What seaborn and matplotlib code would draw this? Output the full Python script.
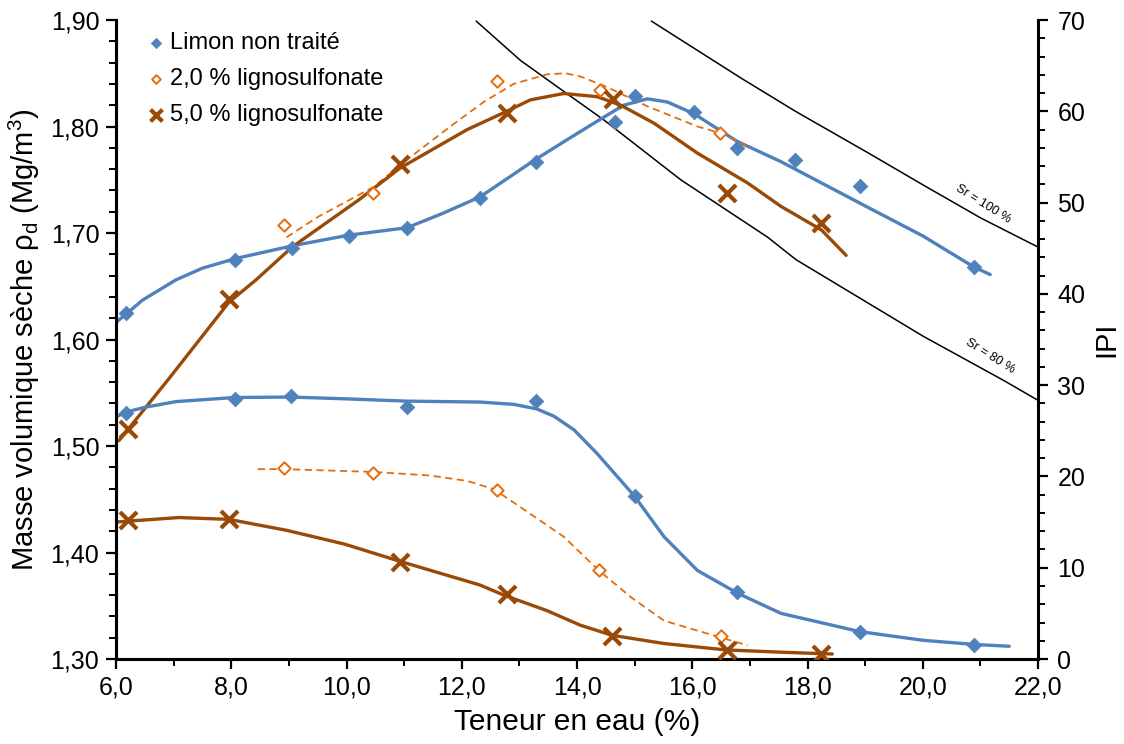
import numpy as np
import pandas as pd
import seaborn as sns
from matplotlib import pyplot as plt
from matplotlib.ticker import MultipleLocator, FuncFormatter

sns.set_style("ticks")
plt.rcParams['font.family'] = ['Liberation Sans', 'DejaVu Sans']
plt.rcParams['mathtext.fontset'] = 'custom'
plt.rcParams['mathtext.rm'] = 'Liberation Sans'
for k in ['text.color', 'axes.labelcolor', 'xtick.color', 'ytick.color', 'axes.edgecolor']:
    plt.rcParams[k] = 'black'

# couleurs (palette Excel)
c_blue = '#4F81BD'
c_orange = '#E46C0A'
c_brown = '#9A4A06'

# ---- Proctor : points mesures (w %, rho_d Mg/m3)
w_lim = [6.18, 8.07, 9.06, 10.04, 11.05, 12.32, 13.29, 14.66, 15.00, 16.03, 16.78, 17.79, 18.91, 20.89]
rho_lim = [1.625, 1.675, 1.686, 1.697, 1.705, 1.733, 1.767, 1.804, 1.829, 1.814, 1.780, 1.769, 1.744, 1.668]
w_l2 = [8.92, 10.46, 12.62, 14.40, 16.48]
rho_l2 = [1.708, 1.738, 1.843, 1.834, 1.794]
w_l5 = [6.21, 7.96, 10.93, 12.78, 14.62, 16.60, 18.24]
rho_l5 = [1.516, 1.638, 1.765, 1.813, 1.826, 1.738, 1.709]

# ---- Proctor : courbes lissees
wc_lim = [6.02, 6.20, 6.46, 7.04, 7.50, 8.07, 9.06, 10.04, 11.05, 11.65, 12.32, 13.25, 13.75, 14.35,
          14.81, 15.22, 15.57, 16.03, 16.78, 17.54, 18.91, 20.01, 20.89, 21.17]
rc_lim = [1.617, 1.625, 1.637, 1.656, 1.667, 1.676, 1.688, 1.698, 1.705, 1.718, 1.734, 1.768, 1.785, 1.805,
          1.820, 1.826, 1.823, 1.812, 1.786, 1.767, 1.728, 1.697, 1.668, 1.661]
wc_l2 = [8.96, 9.50, 10.46, 11.03, 11.80, 12.38, 12.90, 13.48, 13.80, 14.06, 14.52, 15.22, 16.09, 16.48, 17.02]
rc_l2 = [1.696, 1.715, 1.743, 1.768, 1.800, 1.823, 1.840, 1.849, 1.850, 1.847, 1.837, 1.819, 1.800, 1.794, 1.780]
wc_l5 = [6.05, 6.90, 7.96, 8.43, 9.06, 10.21, 10.93, 12.09, 12.73, 13.19, 13.77, 14.35, 14.76, 15.34,
         16.09, 16.96, 17.54, 18.24, 18.67]
rc_l5 = [1.505, 1.562, 1.635, 1.656, 1.687, 1.731, 1.761, 1.797, 1.813, 1.825, 1.831, 1.828, 1.820, 1.803,
         1.775, 1.747, 1.725, 1.703, 1.679]

# ---- IPI : points mesures
w_ipi_lim = [6.18, 8.07, 9.04, 11.05, 13.29, 15.00, 16.78, 18.91, 20.89]
ipi_lim = [26.9, 28.5, 28.8, 27.6, 28.3, 17.9, 7.3, 3.0, 1.5]
w_ipi_l2 = [8.92, 10.46, 12.62, 14.39, 16.50]
ipi_l2 = [20.9, 20.4, 18.5, 9.7, 2.5]
w_ipi_l5 = [6.21, 7.96, 10.93, 12.78, 14.61, 16.60, 18.24]
ipi_l5 = [15.2, 15.3, 10.6, 7.1, 2.5, 0.95, 0.6]

# ---- IPI : courbes lissees
wc_ipi_lim = [5.99, 6.20, 6.52, 7.04, 8.06, 9.02, 10.00, 11.05, 12.32, 12.90, 13.30, 13.60, 13.95, 14.35, 14.99,
              15.51, 16.09, 16.79, 17.54, 18.91, 20.01, 20.89, 21.50]
c_ipi_lim = [26.5, 27.1, 27.6, 28.2, 28.65, 28.7, 28.5, 28.25, 28.15, 27.9, 27.4, 26.6, 25.1, 22.5, 17.9,
             13.4, 9.7, 7.2, 5.0, 3.0, 2.05, 1.6, 1.4]
wc_ipi_l2 = [8.46, 8.92, 10.46, 11.46, 12.10, 12.56, 13.19, 13.77, 14.38, 14.93, 15.51, 16.47, 16.96]
c_ipi_l2 = [20.8, 20.8, 20.5, 20.1, 19.5, 18.6, 15.9, 13.4, 9.7, 6.8, 4.2, 2.4, 1.5]
wc_ipi_l5 = [5.98, 7.09, 7.96, 8.96, 9.96, 10.93, 12.32, 12.73, 13.48, 14.06, 14.61, 15.51, 16.58, 17.54, 18.43]
c_ipi_l5 = [15.0, 15.5, 15.3, 14.1, 12.6, 10.7, 8.1, 7.0, 5.3, 3.7, 2.6, 1.7, 1.0, 0.75, 0.55]

# ---- courbes de saturation
w_sr100 = [15.29, 16.86, 17.80, 19.06, 20.01, 21.01, 22.03]
rho_sr100 = [1.899, 1.845, 1.814, 1.775, 1.745, 1.714, 1.686]
w_sr80 = [12.25, 13.02, 13.77, 14.47, 15.80, 17.31, 17.80, 20.01, 21.39, 22.03]
rho_sr80 = [1.899, 1.862, 1.833, 1.806, 1.750, 1.696, 1.675, 1.603, 1.562, 1.542]

fig = plt.figure(figsize=(11.24, 7.44), dpi=100)
ax = fig.add_axes([0.1032, 0.1142, 0.8203, 0.8589])
ax2 = ax.twinx()

# saturation
sns.lineplot(x=w_sr100, y=rho_sr100, ax=ax, color='black', lw=1.1, sort=False, estimator=None)
sns.lineplot(x=w_sr80, y=rho_sr80, ax=ax, color='black', lw=1.1, sort=False, estimator=None)
ax.text(21.05, 1.727, 'Sr = 100 %', fontsize=9, rotation=-32, ha='center', va='center')
ax.text(21.17, 1.584, 'Sr = 80 %', fontsize=9, rotation=-32, ha='center', va='center')

# courbes Proctor
ls_dash = (0, (4, 2.5))
sns.lineplot(x=wc_lim, y=rc_lim, ax=ax, color=c_blue, lw=2.4, sort=False, estimator=None)
sns.lineplot(x=wc_l2, y=rc_l2, ax=ax, color=c_orange, lw=1.3, ls=ls_dash, sort=False, estimator=None)
sns.lineplot(x=wc_l5, y=rc_l5, ax=ax, color=c_brown, lw=2.4, sort=False, estimator=None)

# courbes IPI
sns.lineplot(x=wc_ipi_lim, y=c_ipi_lim, ax=ax2, color=c_blue, lw=2.4, sort=False, estimator=None)
sns.lineplot(x=wc_ipi_l2, y=c_ipi_l2, ax=ax2, color=c_orange, lw=1.3, ls=ls_dash, sort=False, estimator=None)
sns.lineplot(x=wc_ipi_l5, y=c_ipi_l5, ax=ax2, color=c_brown, lw=2.4, sort=False, estimator=None)

# points
sns.scatterplot(x=w_lim, y=rho_lim, ax=ax, marker='D', s=55, color=c_blue, edgecolor=c_blue, zorder=5,
                label='Limon non traité')
sns.scatterplot(x=w_l2, y=rho_l2, ax=ax, marker='D', s=40, facecolor='white', edgecolor=c_orange,
                linewidth=1.4, zorder=5, label='2,0 % lignosulfonate')
sns.scatterplot(x=w_l5, y=rho_l5, ax=ax, marker='x', s=150, color=c_brown, linewidth=3, zorder=5,
                label='5,0 % lignosulfonate')
sns.scatterplot(x=w_ipi_lim, y=ipi_lim, ax=ax2, marker='D', s=55, color=c_blue, edgecolor=c_blue, zorder=5)
sns.scatterplot(x=w_ipi_l2, y=ipi_l2, ax=ax2, marker='D', s=40, facecolor='white', edgecolor=c_orange,
                linewidth=1.4, zorder=5)
sns.scatterplot(x=w_ipi_l5, y=ipi_l5, ax=ax2, marker='x', s=150, color=c_brown, linewidth=3, zorder=5)

ax.set_xlim(6, 22)
ax.set_ylim(1.30, 1.90)
ax2.set_ylim(0, 70)

ax.xaxis.set_major_locator(MultipleLocator(2))
ax.xaxis.set_minor_locator(MultipleLocator(1))
ax.yaxis.set_major_locator(MultipleLocator(0.1))
ax.yaxis.set_minor_locator(MultipleLocator(0.02))
ax2.yaxis.set_major_locator(MultipleLocator(10))
ax2.yaxis.set_minor_locator(MultipleLocator(2))
ax.xaxis.set_major_formatter(FuncFormatter(lambda v, p: f"{v:.1f}".replace('.', ',')))
ax.yaxis.set_major_formatter(FuncFormatter(lambda v, p: f"{v:.2f}".replace('.', ',')))
ax2.yaxis.set_major_formatter(FuncFormatter(lambda v, p: f"{v:.0f}"))

for a in (ax, ax2):
    a.tick_params(which='major', length=7, width=1.6, labelsize=18, direction='out', pad=5)
    a.tick_params(which='minor', length=5, width=1.4, direction='out')
    a.spines['top'].set_visible(False)
    for s in a.spines.values():
        s.set_linewidth(2.2)
ax.spines['right'].set_visible(False)
ax2.tick_params(axis='y', pad=7)

ax.set_xlabel('Teneur en eau (%)', fontsize=21.5, labelpad=6)
ax.set_ylabel('Masse volumique sèche ρ$_\\mathrm{d}$ (Mg/m$^3$)', fontsize=21, labelpad=6)
ax2.set_ylabel('IPI', fontsize=21, labelpad=5)

ax.legend(loc='upper left', bbox_to_anchor=(0.015, 1.0), frameon=False, fontsize=17, markerscale=0.7,
          handletextpad=0.0, handlelength=1.2, borderaxespad=0.1, labelspacing=0.6)

fig.savefig('out.png', dpi=100)
